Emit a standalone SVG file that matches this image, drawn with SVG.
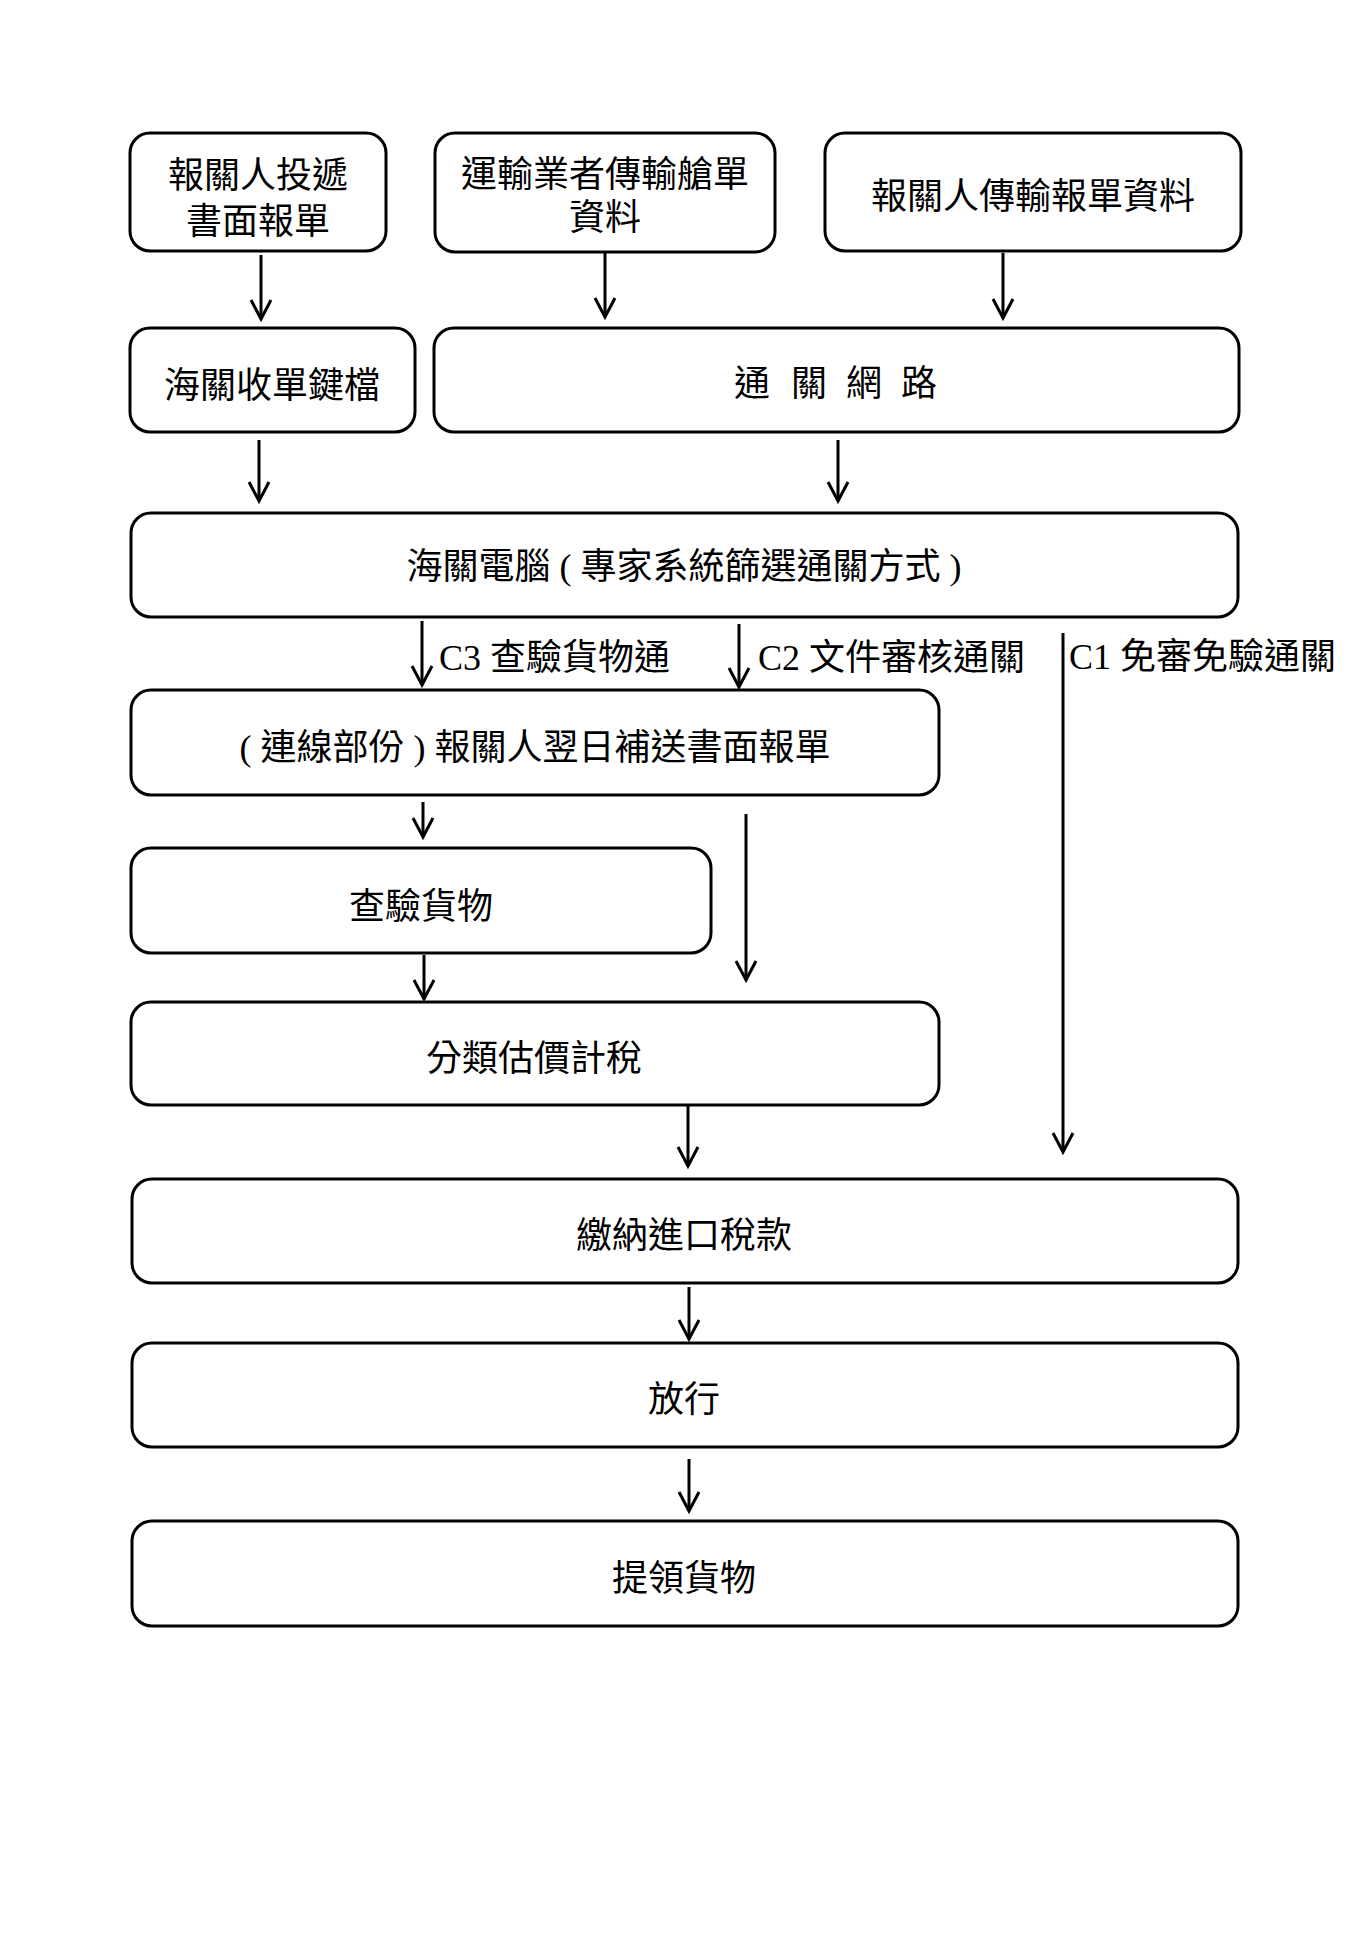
<svg xmlns="http://www.w3.org/2000/svg" width="1372" height="1941" viewBox="0 0 1372 1941">
<style>
.box{fill:#fff;stroke:#000;stroke-width:3}
.t{font-family:"Liberation Serif","Noto Sans CJK TC",serif;font-size:36px;fill:#000}
.c{text-anchor:middle}
.ln{fill:none;stroke:#000;stroke-width:3;marker-end:url(#ah)}
</style>
<defs>
<marker id="ah" markerUnits="userSpaceOnUse" markerWidth="40" markerHeight="40" refX="0" refY="0" orient="auto" overflow="visible">
<path d="M-19,-10 L0,0 L-19,10" fill="none" stroke="#000" stroke-width="3" stroke-linejoin="miter"/>
</marker>
</defs>
<rect width="1372" height="1941" fill="#fff"/>
<g id="connectors">
<line class="ln" x1="261" y1="255" x2="261" y2="319"/>
<line class="ln" x1="605" y1="253" x2="605" y2="317"/>
<line class="ln" x1="1003" y1="253" x2="1003" y2="318"/>
<line class="ln" x1="259" y1="440" x2="259" y2="501"/>
<line class="ln" x1="838" y1="440" x2="838" y2="501"/>
<line class="ln" x1="422" y1="621" x2="422" y2="685"/>
<line class="ln" x1="739" y1="624" x2="739" y2="687"/>
<line class="ln" x1="1063" y1="633" x2="1063" y2="1152"/>
<line class="ln" x1="423" y1="802" x2="423" y2="837"/>
<line class="ln" x1="746" y1="814" x2="746" y2="980"/>
<line class="ln" x1="424" y1="955" x2="424" y2="999"/>
<line class="ln" x1="688" y1="1105" x2="688" y2="1166"/>
<line class="ln" x1="689" y1="1287" x2="689" y2="1339"/>
<line class="ln" x1="689" y1="1459" x2="689" y2="1511"/>
<text class="t" x="439" y="670">C3 查驗貨物通</text>
<text class="t" x="758" y="670">C2 文件審核通關</text>
<text class="t" x="1069" y="669">C1 免審免驗通關</text>
</g>
<g id="n1">
<rect class="box" x="130" y="133" width="256" height="118" rx="20"/>
<text class="t c" x="258" y="188">報關人投遞</text>
<text class="t c" x="258" y="234">書面報單</text>
</g>
<g id="n2">
<rect class="box" x="435" y="133" width="340" height="119" rx="20"/>
<text class="t c" x="605" y="187">運輸業者傳輸艙單</text>
<text class="t c" x="605" y="230">資料</text>
</g>
<g id="n3">
<rect class="box" x="825" y="133" width="416" height="118" rx="20"/>
<text class="t c" x="1033" y="209">報關人傳輸報單資料</text>
</g>
<g id="n4">
<rect class="box" x="130" y="328" width="285" height="104" rx="20"/>
<text class="t c" x="272" y="398">海關收單鍵檔</text>
</g>
<g id="n5">
<rect class="box" x="434" y="328" width="805" height="104" rx="20"/>
<text class="t" xml:space="preserve" x="734 770 791 827 846 882 901" y="396">通 關 網 路</text>
</g>
<g id="n6">
<rect class="box" x="131" y="513" width="1107" height="104" rx="20"/>
<text class="t c" x="684" y="579">海關電腦 ( 專家系統篩選通關方式 )</text>
</g>
<g id="n7">
<rect class="box" x="131" y="690" width="808" height="105" rx="20"/>
<text class="t c" x="535" y="760">( 連線部份 ) 報關人翌日補送書面報單</text>
</g>
<g id="n8">
<rect class="box" x="131" y="848" width="580" height="105" rx="20"/>
<text class="t c" x="421" y="919">查驗貨物</text>
</g>
<g id="n9">
<rect class="box" x="131" y="1002" width="808" height="103" rx="20"/>
<text class="t c" x="534" y="1071">分類估價計稅</text>
</g>
<g id="n10">
<rect class="box" x="132" y="1179" width="1106" height="104" rx="20"/>
<text class="t c" x="684" y="1248">繳納進口稅款</text>
</g>
<g id="n11">
<rect class="box" x="132" y="1343" width="1106" height="104" rx="20"/>
<text class="t c" x="684" y="1412">放行</text>
</g>
<g id="n12">
<rect class="box" x="132" y="1521" width="1106" height="105" rx="20"/>
<text class="t c" x="684" y="1591">提領貨物</text>
</g>
</svg>
